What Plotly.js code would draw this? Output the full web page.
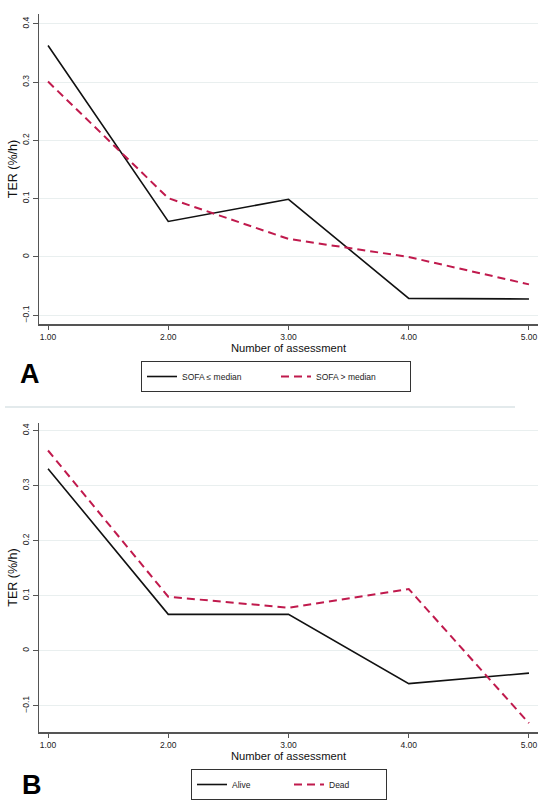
<!DOCTYPE html>
<html>
<head>
<meta charset="utf-8">
<script src="https://cdn.plot.ly/plotly-3.0.1.min.js"></script>
<style>html,body{margin:0;padding:0;background:#fff;}#chart{width:550px;height:805px;}</style>
</head>
<body>
<div id="chart"></div>
<script>
// ---- data ----
const assessments = [1, 2, 3, 4, 5];
const xTickVals = [1, 2, 3, 4, 5];
const xTickText = ["1.00", "2.00", "3.00", "4.00", "5.00"];
const yTickVals = [-0.1, 0, 0.1, 0.2, 0.3, 0.4];
const yTickText = ["\u22120.1", "0", "0.1", "0.2", "0.3", "0.4"];

const sofaLowName = "SOFA \u2264 median";
const sofaHighName = "SOFA > median";
const sofaLow = [0.363, 0.061, 0.099, -0.071, -0.072];
const sofaHigh = [0.301, 0.101, 0.031, 0.000, -0.047];

const aliveName = "Alive";
const deadName = "Dead";
const alive = [0.331, 0.066, 0.066, -0.060, -0.041];
const dead = [0.364, 0.098, 0.078, 0.112, -0.132];

const xTitle = "Number of assessment";
const yTitle = "TER (%/h)";

// ---- styles ----
const W = 550, H = 805;
const px = v => v / W;
const py = v => 1 - v / H;
const font = "Liberation Sans, Arial, Helvetica, sans-serif";
const black = "#111111";
const red = "#c01a4d";

const traces = [
  {x: assessments, y: sofaLow, name: sofaLowName, mode: "lines", type: "scatter",
   xaxis: "x", yaxis: "y", legend: "legend",
   line: {color: black, width: 1.6}},
  {x: assessments, y: sofaHigh, name: sofaHighName, mode: "lines", type: "scatter",
   xaxis: "x", yaxis: "y", legend: "legend",
   line: {color: red, width: 2, dash: "8px,5px"}},
  {x: assessments, y: alive, name: aliveName, mode: "lines", type: "scatter",
   xaxis: "x2", yaxis: "y2", legend: "legend2",
   line: {color: black, width: 1.6}},
  {x: assessments, y: dead, name: deadName, mode: "lines", type: "scatter",
   xaxis: "x2", yaxis: "y2", legend: "legend2",
   line: {color: red, width: 2, dash: "8px,5px"}}
];

function xAxis(anchor) {
  return {
    domain: [px(39), px(538)], anchor: anchor,
    range: [0.925, 5.075], tickvals: xTickVals, ticktext: xTickText,
    showline: true, linecolor: "#555", linewidth: 1.5, mirror: false,
    ticks: "outside", ticklen: 4, tickwidth: 1, tickcolor: "#555",
    showgrid: false, zeroline: false,
    tickfont: {family: font, size: 8.5, color: "#222"},
    title: {text: xTitle, font: {family: font, size: 11.2, color: "#111"}, standoff: 2},
    automargin: false
  };
}
function yAxis(domain, range, anchor) {
  return {
    domain: domain, anchor: anchor, range: range,
    tickvals: yTickVals, ticktext: yTickText, tickangle: -90,
    showline: true, linecolor: "#555", linewidth: 1.5,
    ticks: "outside", ticklen: 5, tickwidth: 1, tickcolor: "#555",
    showgrid: true, gridcolor: "#e9efef", gridwidth: 1, zeroline: false,
    tickfont: {family: font, size: 8.5, color: "#222"},
    title: {text: yTitle, font: {family: font, size: 12.5, color: "#111"}, standoff: 0},
    automargin: false
  };
}

const legendCommon = {
  orientation: "h", xanchor: "left", yanchor: "top",
  bordercolor: "#333", borderwidth: 1, bgcolor: "#fff",
  font: {family: font, size: 8.5, color: "#222"},
  entrywidthmode: "pixels"
};

const layout = {
  width: W, height: H,
  margin: {l: 0, r: 0, t: 0, b: 0},
  paper_bgcolor: "#fff", plot_bgcolor: "#fff",
  showlegend: true,
  xaxis: xAxis("y"),
  yaxis: yAxis([py(324), py(14)], [-0.115, 0.417], "x"),
  xaxis2: xAxis("y2"),
  yaxis2: yAxis([py(732), py(423)], [-0.148, 0.414], "x2"),
  legend: Object.assign({}, legendCommon, {x: px(141), y: py(361), entrywidth: 89}),
  legend2: Object.assign({}, legendCommon, {x: px(191), y: py(769), entrywidth: 52}),
  annotations: [
    {text: "<b>A</b>", xref: "paper", yref: "paper", x: px(30), y: py(374),
     xanchor: "center", yanchor: "middle", showarrow: false,
     font: {family: font, size: 27, color: "#000"}},
    {text: "<b>B</b>", xref: "paper", yref: "paper", x: px(32), y: py(785),
     xanchor: "center", yanchor: "middle", showarrow: false,
     font: {family: font, size: 27, color: "#000"}}
  ],
  shapes: [
    {type: "line", xref: "paper", yref: "paper", x0: px(5), x1: px(515), y0: py(407), y1: py(407),
     line: {color: "#e3eaec", width: 2}}
  ]
};

Plotly.newPlot("chart", traces, layout, {displayModeBar: false, staticPlot: true});
</script>
</body>
</html>
